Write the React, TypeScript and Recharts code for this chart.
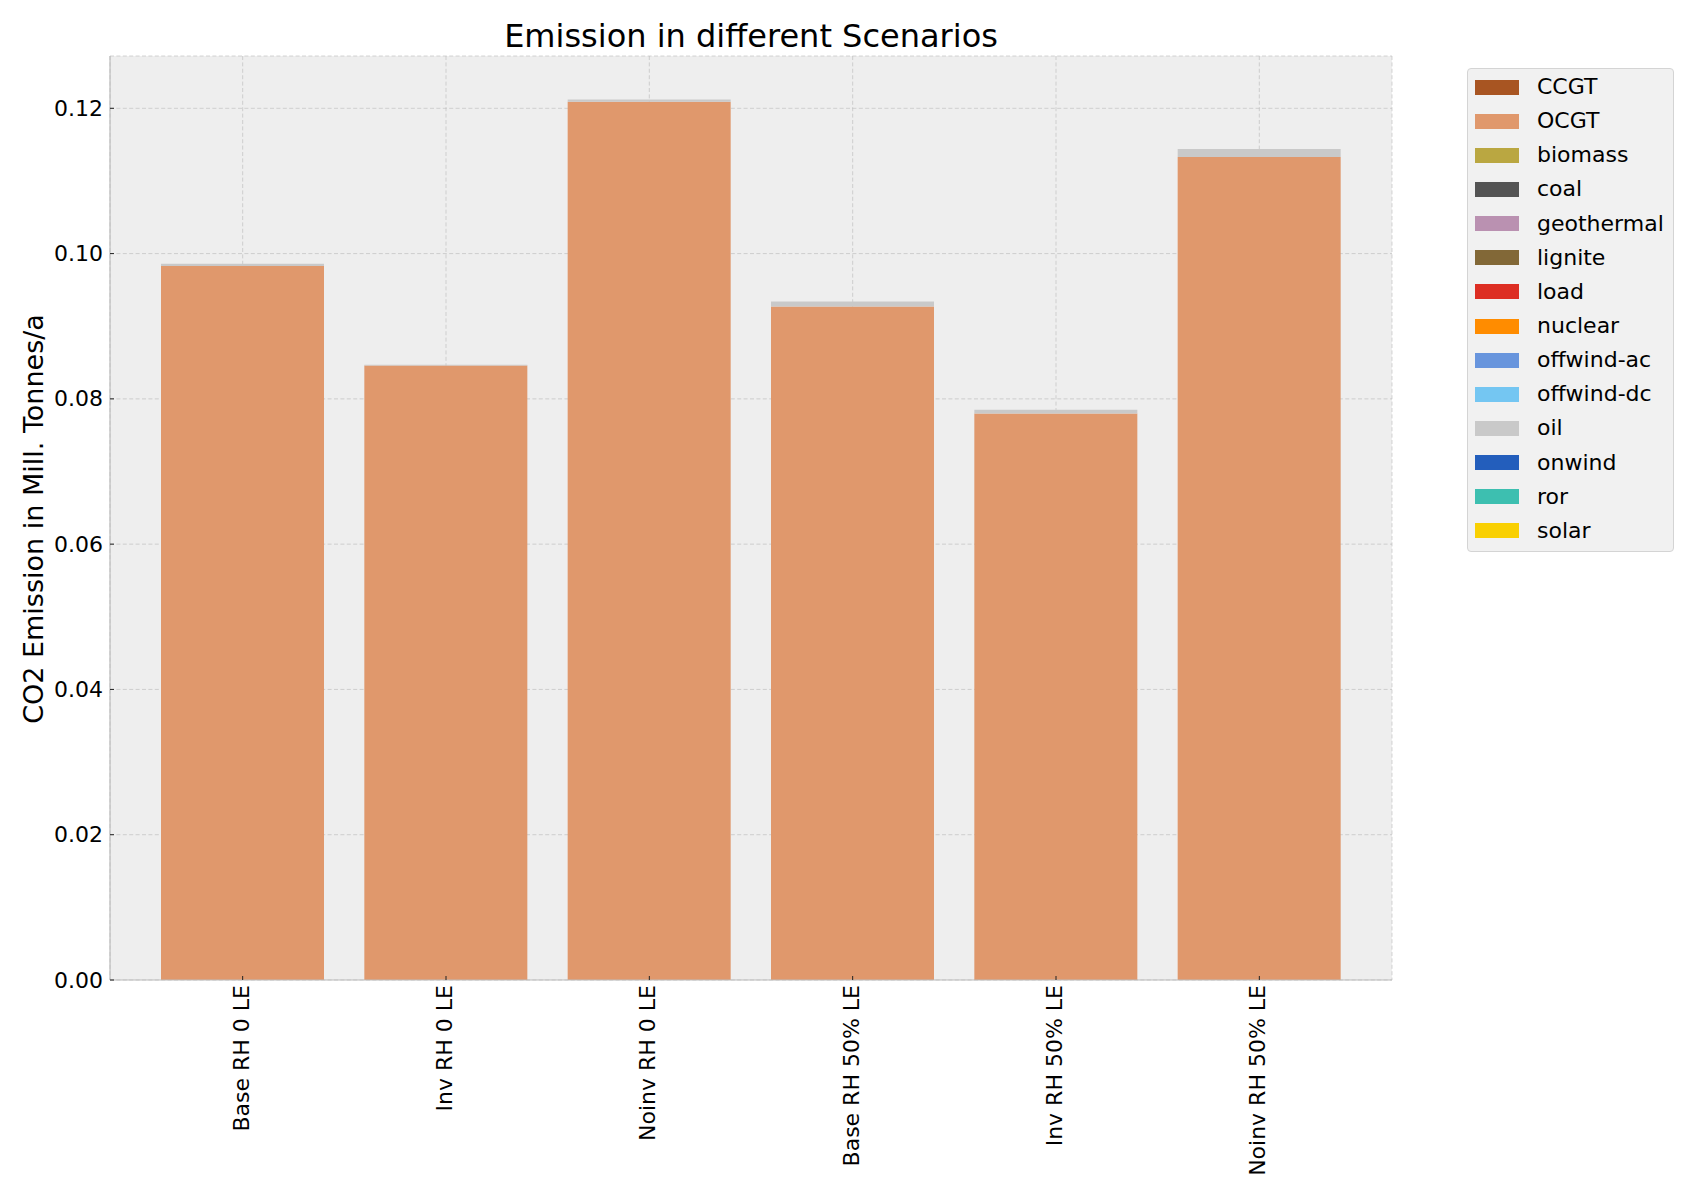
import React from 'react';
import { BarChart, Bar, XAxis, YAxis, CartesianGrid, Legend } from 'recharts';

const scenarios = ['Base RH 0 LE', 'Inv RH 0 LE', 'Noinv RH 0 LE', 'Base RH 50% LE', 'Inv RH 50% LE', 'Noinv RH 50% LE'];

const carriers = ['CCGT', 'OCGT', 'biomass', 'coal', 'geothermal', 'lignite', 'load', 'nuclear', 'offwind-ac', 'offwind-dc', 'oil', 'onwind', 'ror', 'solar'];
const carrierColors = ['#a85522', '#e0986c', '#baa741', '#545454', '#ba91b1', '#826837', '#dd2e23', '#ff8c00', '#6895dd', '#74c6f2', '#c9c9c9', '#235ebc', '#3dbfb0', '#f9d002'];

const ccgt = [0, 0, 0, 0, 0, 0];
const ocgt = [0.0983, 0.0846, 0.1209, 0.0927, 0.0780, 0.1133];
const biomass = [0, 0, 0, 0, 0, 0];
const coal = [0, 0, 0, 0, 0, 0];
const geothermal = [0, 0, 0, 0, 0, 0];
const lignite = [0, 0, 0, 0, 0, 0];
const load = [0, 0, 0, 0, 0, 0];
const nuclear = [0, 0, 0, 0, 0, 0];
const offwindAc = [0, 0, 0, 0, 0, 0];
const offwindDc = [0, 0, 0, 0, 0, 0];
const oil = [0.0003, 0.0001, 0.0003, 0.0007, 0.0005, 0.0011];
const onwind = [0, 0, 0, 0, 0, 0];
const ror = [0, 0, 0, 0, 0, 0];
const solar = [0, 0, 0, 0, 0, 0];

const seriesValues = [ccgt, ocgt, biomass, coal, geothermal, lignite, load, nuclear, offwindAc, offwindDc, oil, onwind, ror, solar];

const yTicks = [0, 0.02, 0.04, 0.06, 0.08, 0.1, 0.12];
const yMax = 0.1272;

const title = 'Emission in different Scenarios';
const yLabel = 'CO2 Emission in Mill. Tonnes/a';

const data = scenarios.map((s, i) => {
  const row: Record<string, string | number> = { scenario: s };
  carriers.forEach((c, k) => {
    row[c] = seriesValues[k][i];
  });
  return row;
});

const FONT = '"DejaVu Sans", sans-serif';

const XTick = (props: any) => {
  const { x, y, payload } = props;
  return (
    <g>
      <line x1={x} x2={x} y1={y - 5} y2={y - 9} stroke="#222" strokeWidth={1} />
      <text
        x={x}
        y={y}
        dy={6}
        transform={`rotate(-90, ${x}, ${y})`}
        textAnchor="end"
        fontSize={22}
        fontFamily={FONT}
        fill="#000"
      >
        {payload.value}
      </text>
    </g>
  );
};

const YTick = (props: any) => {
  const { x, y, payload } = props;
  return (
    <g>
      <line x1={x + 7} x2={x + 11} y1={y} y2={y} stroke="#222" strokeWidth={1} />
      <text x={x} y={y} textAnchor="end" dominantBaseline="central" fontSize={22} fontFamily={FONT} fill="#000">
        {Number(payload.value).toFixed(2)}
      </text>
    </g>
  );
};

const LegendBox = (props: any) => {
  const { payload } = props;
  return (
    <div
      style={{
        boxSizing: 'border-box',
        width: 207,
        height: 484,
        background: '#f1f1f1',
        border: '1px solid #d4d4d4',
        borderRadius: 4,
        paddingTop: 1,
        fontFamily: FONT,
      }}
    >
      {(payload || []).map((p: any) => (
        <div key={p.value} style={{ display: 'flex', alignItems: 'center', height: 34.15 }}>
          <div style={{ width: 44, height: 15, marginLeft: 7, background: p.color }} />
          <div style={{ marginLeft: 18, fontSize: 22, color: '#000', lineHeight: '22px' }}>{p.value}</div>
        </div>
      ))}
    </div>
  );
};

export default function App() {
  return (
    <div style={{ position: 'absolute', left: 0, top: 0, width: 1700, height: 1200, fontFamily: FONT, background: '#fff' }}>
      <BarChart
        width={1700}
        height={1200}
        data={data}
        margin={{ top: 56, right: 308, bottom: 0, left: 0 }}
      >
        <CartesianGrid horizontal={false} vertical={false} fill="#eeeeee" fillOpacity={1} stroke="none" />
        {carriers.map((c, k) => (
          <Bar
            key={c}
            dataKey={c}
            stackId="a"
            fill={carrierColors[k]}
            barSize={163}
            isAnimationActive={false}
          />
        ))}
        <CartesianGrid stroke="#b8b8b8" strokeWidth={0.6} strokeDasharray="4 2.4" fill="none" />
        <XAxis
          dataKey="scenario"
          height={220}
          interval={0}
          padding={{ left: 31, right: 31 }}
          tickSize={0}
          tickMargin={5}
          tick={<XTick />}
          axisLine={{ stroke: '#bcbcbc', strokeWidth: 1.2 }}
          tickLine={false}
        />
        <XAxis
          xAxisId="top"
          orientation="top"
          dataKey="scenario"
          height={0}
          tick={false}
          tickLine={false}
          axisLine={{ stroke: '#bcbcbc', strokeWidth: 1.2 }}
        />
        <YAxis
          width={110}
          domain={[0, yMax]}
          ticks={yTicks}
          allowDataOverflow
          tickSize={0}
          tickMargin={7}
          tick={<YTick />}
          axisLine={{ stroke: '#bcbcbc', strokeWidth: 1.2 }}
          tickLine={false}
        />
        <YAxis
          yAxisId="right"
          orientation="right"
          width={0}
          domain={[0, yMax]}
          tick={false}
          tickLine={false}
          axisLine={{ stroke: '#bcbcbc', strokeWidth: 1.2 }}
        />
        <Legend
          layout="horizontal"
          verticalAlign="middle"
          align="center"
          content={<LegendBox />}
          wrapperStyle={{ left: 1467, top: 68, width: 207, height: 484 }}
        />
      </BarChart>
      <svg
        width={1700}
        height={1200}
        style={{ position: 'absolute', left: 0, top: 0, pointerEvents: 'none' }}
      >
        <text x={751} y={47} textAnchor="middle" fontSize={32} fontFamily={FONT} fill="#000">
          {title}
        </text>
        <text
          x={43}
          y={519}
          transform="rotate(-90, 43, 519)"
          textAnchor="middle"
          fontSize={27}
          fontFamily={FONT}
          fill="#000"
        >
          {yLabel}
        </text>
      </svg>
    </div>
  );
}
